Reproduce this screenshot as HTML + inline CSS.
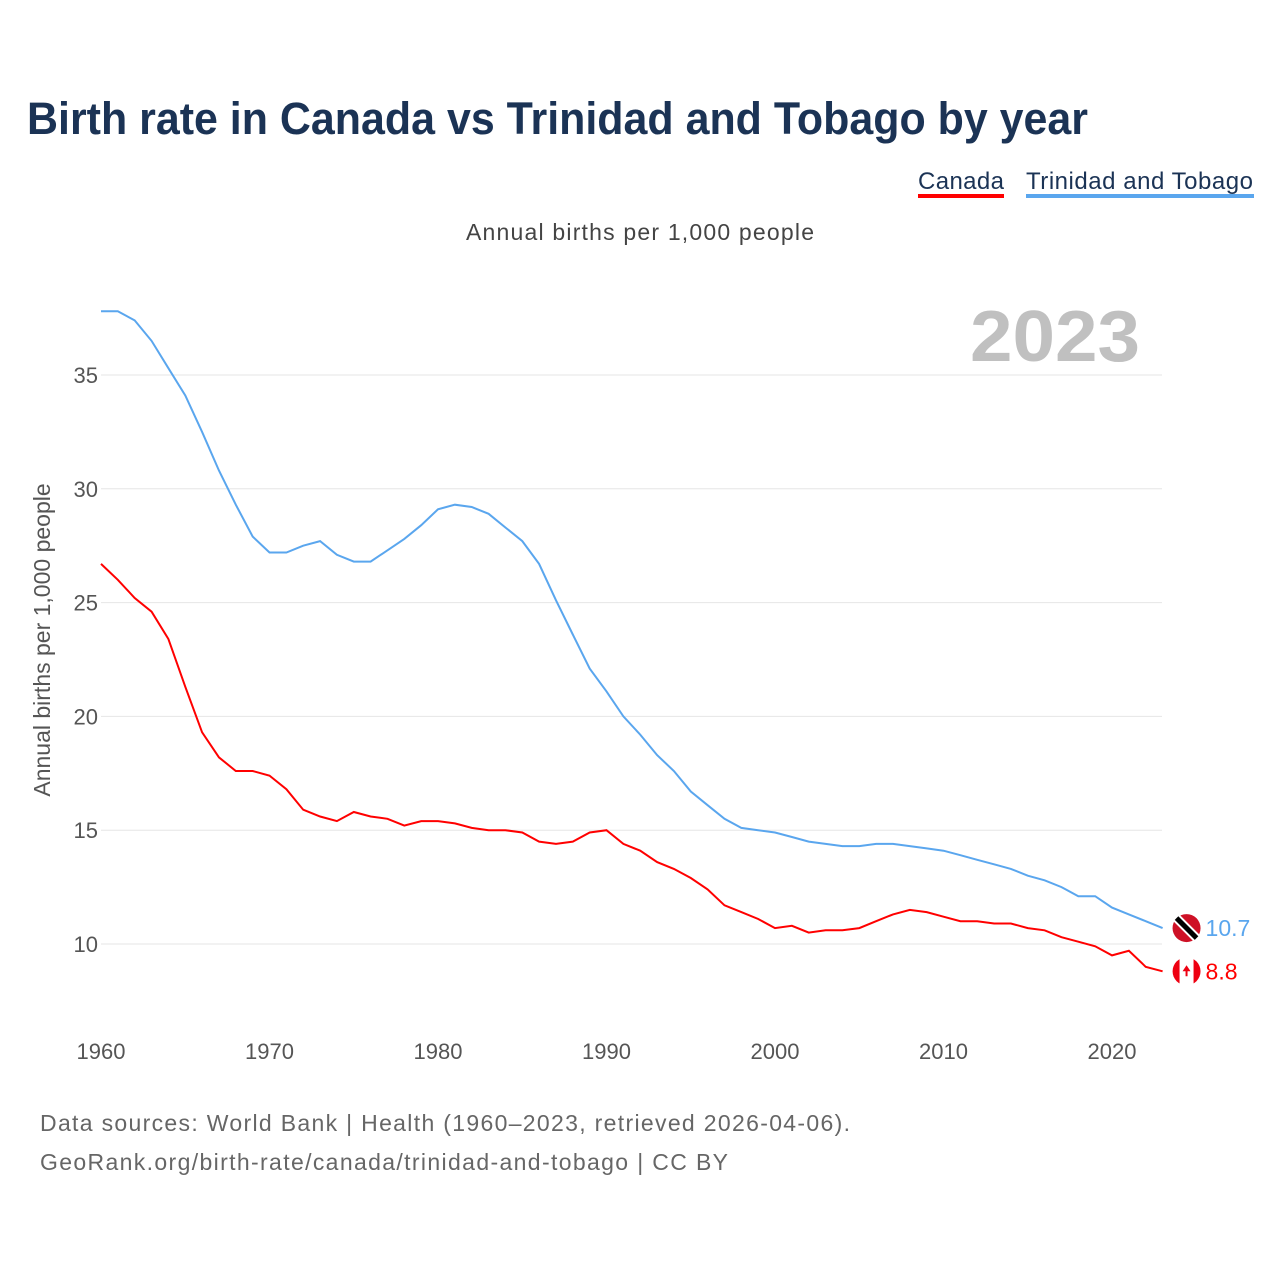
<!DOCTYPE html>
<html><head><meta charset="utf-8"><style>
body{margin:0;background:#fff;font-family:"Liberation Sans",sans-serif;}
</style></head><body>
<svg width="1280" height="1280" xmlns="http://www.w3.org/2000/svg" id="svg">
<defs><clipPath id="cc"><circle cx="1186" cy="971" r="14"/></clipPath></defs>
<text x="27" y="134" font-size="45" font-weight="bold" fill="#1b3355" textLength="1061" lengthAdjust="spacingAndGlyphs">Birth rate in Canada vs Trinidad and Tobago by year</text>
<g><text x="918" y="189" font-size="24" fill="#1b3355" textLength="86">Canada</text><rect x="918" y="194" width="86" height="4" fill="#ff0000"/></g>
<g><text x="1026" y="189" font-size="24" fill="#1b3355" textLength="227">Trinidad and Tobago</text><rect x="1026" y="194" width="228" height="4" fill="#5aa6ee"/></g>
<text x="466" y="240" font-size="23" fill="#444" textLength="348">Annual births per 1,000 people</text>
<text x="970" y="361" font-size="72" font-weight="bold" fill="#c0c0c0" textLength="170" lengthAdjust="spacingAndGlyphs">2023</text>
<text transform="translate(50,640) rotate(-90)" font-size="23" fill="#555" text-anchor="middle">Annual births per 1,000 people</text>
<g id="grid"></g><g id="series"></g>
<text x="40" y="1131" font-size="23" fill="#666" textLength="810">Data sources: World Bank | Health (1960–2023, retrieved 2026-04-06).</text>
<text x="40" y="1170" font-size="23" fill="#666" textLength="688">GeoRank.org/birth-rate/canada/trinidad-and-tobago | CC BY</text>
</svg>
<script>
const years=[];for(let y=1960;y<=2023;y++)years.push(y);
const canada=[26.7,26.0,25.2,24.6,23.4,21.3,19.3,18.2,17.6,17.6,17.4,16.8,15.9,15.6,15.4,15.8,15.6,15.5,15.2,15.4,15.4,15.3,15.1,15.0,15.0,14.9,14.5,14.4,14.5,14.9,15.0,14.4,14.1,13.6,13.3,12.9,12.4,11.7,11.4,11.1,10.7,10.8,10.5,10.6,10.6,10.7,11.0,11.3,11.5,11.4,11.2,11.0,11.0,10.9,10.9,10.7,10.6,10.3,10.1,9.9,9.5,9.7,9.0,8.8];
const trinidad=[37.8,37.8,37.4,36.5,35.3,34.1,32.5,30.8,29.3,27.9,27.2,27.2,27.5,27.7,27.1,26.8,26.8,27.3,27.8,28.4,29.1,29.3,29.2,28.9,28.3,27.7,26.7,25.1,23.6,22.1,21.1,20.0,19.2,18.3,17.6,16.7,16.1,15.5,15.1,15.0,14.9,14.7,14.5,14.4,14.3,14.3,14.4,14.4,14.3,14.2,14.1,13.9,13.7,13.5,13.3,13.0,12.8,12.5,12.1,12.1,11.6,11.3,11.0,10.7];
const yTicks=[10,15,20,25,30,35];
const xTicks=[1960,1970,1980,1990,2000,2010,2020];
const X=y=>101+(y-1960)*16.85, Y=v=>944-(v-10)*22.76;
const NS="http://www.w3.org/2000/svg";
const grid=document.getElementById('grid'),ser=document.getElementById('series');
function mk(t,a,p){const e=document.createElementNS(NS,t);for(const k in a)e.setAttribute(k,a[k]);p.appendChild(e);return e;}
yTicks.forEach(v=>{
 const l=mk('line',{x1:101,x2:1162,y1:Y(v),y2:Y(v),stroke:'#e6e6e6','stroke-width':1},grid);
 
 
 const t=mk('text',{x:98,y:Y(v)+8,'font-size':22,fill:'#555','text-anchor':'end'},grid);t.textContent=v;
 
 
});
xTicks.forEach(v=>{
 const t=mk('text',{x:X(v),y:1059,'font-size':22,fill:'#555','text-anchor':'middle'},grid);t.textContent=v;
 
 
});
function line(d,c,name){
 const p=mk('path',{d:d.map((v,i)=>(i?'L':'M')+X(years[i]).toFixed(1)+','+Y(v).toFixed(1)).join(''),fill:'none',stroke:c,'stroke-width':2},ser);
 
 
}
line(trinidad,'#5aa6ee','trinidad-line');line(canada,'#ff0000','canada-line');
function end(d,c,name,flag){
 const v=d[d.length-1],x=X(2023)+24,y=Y(v);
 const g=mk('g',{},ser);
 
 
 if(flag=='tt'){mk('circle',{cx:x,cy:y,r:14,fill:'#ce1126'},g);mk('line',{x1:x-10,y1:y-10,x2:x+10,y2:y+10,stroke:'#fff','stroke-width':9},g);mk('line',{x1:x-10,y1:y-10,x2:x+10,y2:y+10,stroke:'#000','stroke-width':5},g);}
 else{const f=mk('g',{transform:'translate('+(x-1186)+','+(y-971)+')'},g);const h=mk('g',{'clip-path':'url(#cc)'},f);mk('circle',{cx:1186,cy:971,r:14,fill:'#fff'},h);mk('rect',{x:1172,y:957,width:7,height:28,fill:'#e01'},h);mk('rect',{x:1193,y:957,width:7,height:28,fill:'#e01'},h);mk('path',{d:'M1186,965 L1190,971 L1187,971 L1187,976 L1185,976 L1185,971 L1182,971 Z',fill:'#e01'},h);}
 const t=mk('text',{x:x+19,y:y+8,'font-size':23,fill:c},g);t.textContent=v.toFixed(1);
}
end(trinidad,'#5aa6ee','trinidad-end-label','tt');end(canada,'#ff0000','canada-end-label','ca');
</script>
</body></html>
